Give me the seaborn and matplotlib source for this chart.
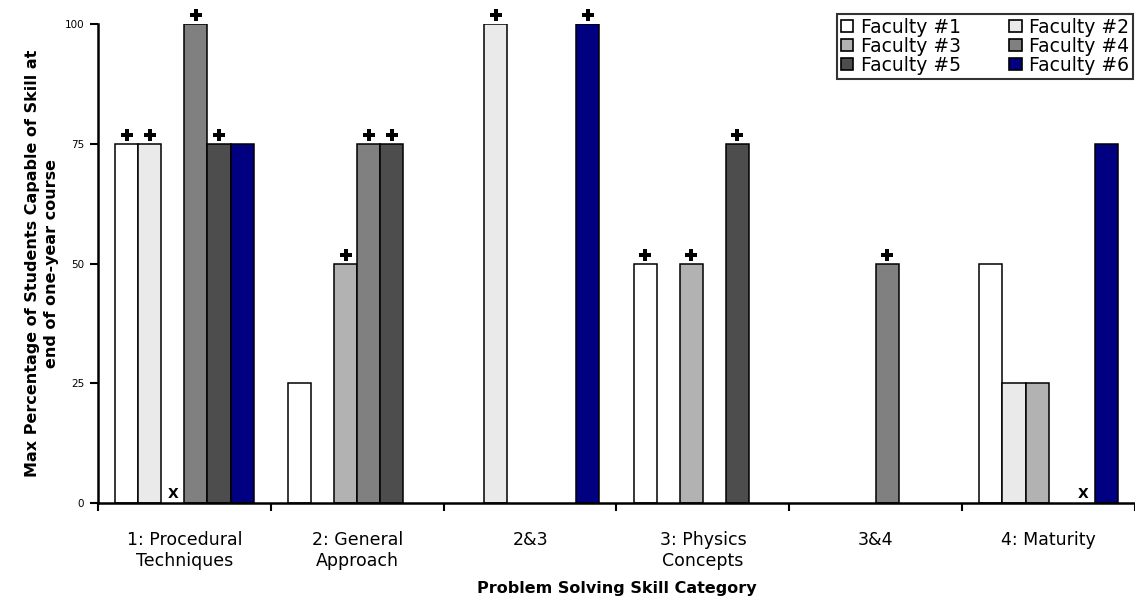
import numpy as np
import pandas as pd
import matplotlib
matplotlib.use("Agg")
import matplotlib.pyplot as plt
import matplotlib.transforms as mtransforms
import seaborn as sns
from matplotlib.patches import Patch

categories = ["1: Procedural\nTechniques", "2: General\nApproach", "2&3",
              "3: Physics\nConcepts", "3&4", "4: Maturity"]
faculty = ["Faculty #1", "Faculty #2", "Faculty #3", "Faculty #4", "Faculty #5", "Faculty #6"]
f1 = [75, 25, 0, 50, 0, 50]
f2 = [75, 0, 100, 0, 0, 25]
f3 = [0, 50, 0, 50, 0, 25]
f4 = [100, 75, 0, 0, 50, 0]
f5 = [75, 75, 0, 75, 0, 0]
f6 = [75, 0, 100, 0, 0, 75]
# annotation marks: "+" and "X" (1 = mark present)
plus1 = [1, 0, 0, 1, 0, 0]
plus2 = [1, 0, 1, 0, 0, 0]
plus3 = [0, 1, 0, 1, 0, 0]
plus4 = [1, 1, 0, 0, 1, 0]
plus5 = [1, 1, 0, 1, 0, 0]
plus6 = [0, 0, 1, 0, 0, 0]
xmark3 = [1, 0, 0, 0, 0, 0]
xmark5 = [0, 0, 0, 0, 0, 1]
yticks = [0, 25, 50, 75, 100]
colors = ["#FFFFFF", "#EAEAEA", "#B2B2B2", "#808080", "#4D4D4D", "#000080"]

series = [f1, f2, f3, f4, f5, f6]
pluses = [plus1, plus2, plus3, plus4, plus5, plus6]
xmarks = [[0] * 6, [0] * 6, xmark3, [0] * 6, xmark5, [0] * 6]

rows = []
for name, vals in zip(faculty, series):
    for c, v in zip(categories, vals):
        rows.append({"cat": c, "fac": name, "val": v})
df = pd.DataFrame(rows)

sns.set_style("white")
plt.rcParams['font.family'] = ['DejaVu Sans']
plt.rcParams['text.color'] = 'black'
plt.rcParams['axes.labelcolor'] = 'black'
plt.rcParams['xtick.color'] = 'black'
plt.rcParams['ytick.color'] = 'black'

fig = plt.figure(figsize=(11.35, 6.07), dpi=100)
ax = fig.add_axes([98 / 1135, (607 - 503) / 607, 1 - 98 / 1135, (503 - 24) / 607])

sns.barplot(data=df, x="cat", y="val", hue="fac", order=categories, hue_order=faculty,
            palette=colors, width=0.8, edgecolor="black", linewidth=1.1,
            saturation=1, legend=False, ax=ax)

ax.set_ylim(0, 100)
ax.set_xlim(-0.5, -0.5 + 1037 / 175.4)
ax.set_yticks(yticks)
ax.set_yticklabels([str(t) for t in yticks], fontsize=7.5)
ax.tick_params(axis="y", direction="out", length=6, width=1.5, pad=4, left=True)

# major ticks at category boundaries, labels at centers (minor)
ax.set_xticks(np.arange(-0.5, 6.0, 1.0))
ax.set_xticklabels([])
ax.tick_params(axis="x", which="major", direction="out", length=6, width=1.5, bottom=True)
ax.set_xticks(np.arange(len(categories)), minor=True)
ax.set_xticklabels(categories, minor=True, fontsize=12.5, linespacing=1.25)
ax.tick_params(axis="x", which="minor", length=0, pad=20)

for side in ["top", "right"]:
    ax.spines[side].set_visible(False)
for side in ["left", "bottom"]:
    ax.spines[side].set_color("black")
    ax.spines[side].set_linewidth(1.8)

ax.set_xlabel("Problem Solving Skill Category", fontsize=11.5, fontweight="bold", labelpad=8)
ax.set_ylabel("Max Percentage of Students Capable of Skill at\nend of one-year course",
              fontsize=11.5, fontweight="bold", labelpad=4, linespacing=1.3)

plus_tr = ax.transData + mtransforms.ScaledTranslation(0, 9 / 100, fig.dpi_scale_trans)
x_tr = ax.transData + mtransforms.ScaledTranslation(0, 2 / 100, fig.dpi_scale_trans)

# annotations placed on the library's bars
for i, cont in enumerate(ax.containers):
    for j, bar in enumerate(cont):
        xc = bar.get_x() + bar.get_width() / 2
        h = bar.get_height()
        if h == 0:
            bar.set_linewidth(0)
        if pluses[i][j]:
            ax.plot([xc], [h], marker="P", markersize=8.5, color="black",
                    markeredgewidth=0, clip_on=False, linestyle="none",
                    transform=plus_tr)
        if xmarks[i][j]:
            ax.text(xc, 0, "X", ha="center", va="bottom", fontsize=10,
                    fontweight="bold", transform=x_tr)

handles = [Patch(facecolor=c, edgecolor="black", linewidth=1.2) for c in colors]
order = [0, 2, 4, 1, 3, 5]
leg = fig.legend([handles[k] for k in order], [faculty[k] for k in order],
                 ncol=2, loc="upper right",
                 bbox_to_anchor=(1133 / 1135, 1 - 14 / 607),
                 fontsize=13.5, frameon=True, fancybox=False,
                 handlelength=0.65, handleheight=0.65, handletextpad=0.4,
                 labelspacing=0.0, borderpad=0.2, borderaxespad=0, columnspacing=2.6)
leg.get_frame().set_edgecolor("black")
leg.get_frame().set_linewidth(1.5)

fig.savefig("out.png", dpi=100)
